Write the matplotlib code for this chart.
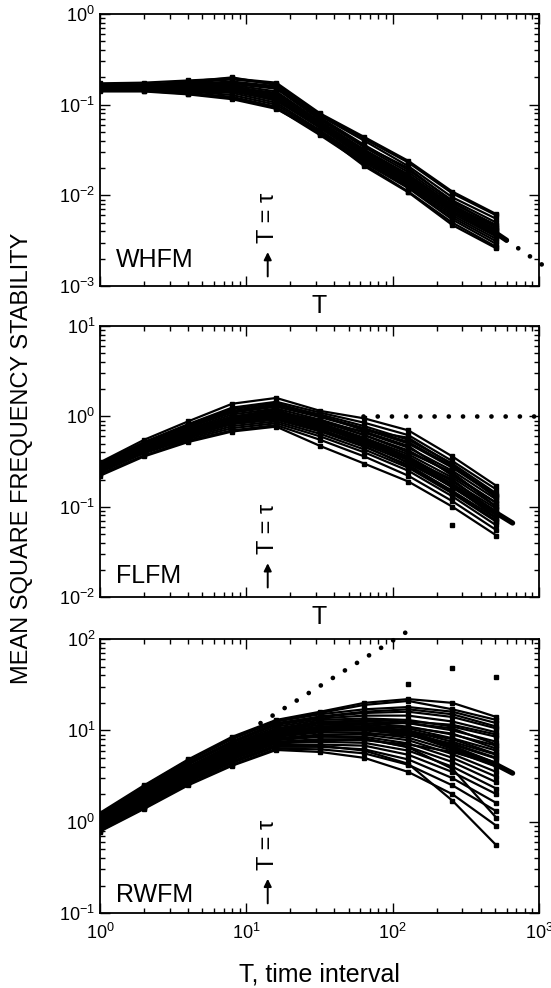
import numpy as np
import matplotlib.pyplot as plt
import matplotlib.transforms as mtransforms

plt.rcParams['font.family'] = ['Liberation Sans', 'DejaVu Sans']
plt.rcParams['mathtext.fontset'] = 'custom'
plt.rcParams['mathtext.rm'] = 'Liberation Sans'

# sampling intervals (powers of two)
T = [1, 2, 4, 8, 16, 32, 64, 128, 256, 512]
tau = 14

# --- WHFM ensemble ---
whfm_runs = [
    [0.165, 0.168, 0.175, 0.19, 0.17, 0.075, 0.040, 0.021, 0.0095, 0.0055],
    [0.160, 0.163, 0.170, 0.18, 0.16, 0.072, 0.036, 0.019, 0.0088, 0.0050],
    [0.158, 0.160, 0.165, 0.17, 0.15, 0.068, 0.034, 0.018, 0.0082, 0.0047],
    [0.162, 0.158, 0.160, 0.165, 0.14, 0.065, 0.032, 0.017, 0.0078, 0.0044],
    [0.155, 0.157, 0.158, 0.16, 0.13, 0.062, 0.030, 0.016, 0.0074, 0.0041],
    [0.160, 0.155, 0.152, 0.15, 0.125, 0.060, 0.029, 0.015, 0.0070, 0.0039],
    [0.157, 0.160, 0.150, 0.145, 0.118, 0.058, 0.028, 0.0145, 0.0067, 0.0037],
    [0.152, 0.150, 0.145, 0.14, 0.112, 0.055, 0.026, 0.0135, 0.0063, 0.0035],
    [0.160, 0.152, 0.142, 0.135, 0.105, 0.052, 0.025, 0.013, 0.0060, 0.0033],
    [0.155, 0.148, 0.140, 0.128, 0.10, 0.050, 0.024, 0.0125, 0.0057, 0.0031],
    [0.150, 0.145, 0.135, 0.122, 0.095, 0.048, 0.023, 0.012, 0.0054, 0.0029],
    [0.163, 0.165, 0.180, 0.20, 0.165, 0.078, 0.042, 0.023, 0.0105, 0.0060],
    [0.158, 0.162, 0.168, 0.175, 0.155, 0.070, 0.035, 0.020, 0.0085, 0.0045],
    [0.160, 0.156, 0.155, 0.155, 0.135, 0.064, 0.031, 0.0165, 0.0076, 0.0042],
    [0.145, 0.142, 0.132, 0.118, 0.092, 0.046, 0.022, 0.011, 0.0050, 0.0027],
    [0.162, 0.160, 0.160, 0.16, 0.128, 0.058, 0.027, 0.014, 0.0066, 0.0036],
    [0.172, 0.175, 0.185, 0.195, 0.175, 0.080, 0.044, 0.024, 0.011, 0.0062],
    [0.140, 0.140, 0.130, 0.115, 0.09, 0.049, 0.021, 0.0108, 0.0047, 0.0026],
]
whfm_fit_T = [1, 2, 4, 8, 16, 32, 64, 128, 256, 512, 600]
whfm_fit = [0.16, 0.16, 0.158, 0.15, 0.115, 0.060, 0.030, 0.015, 0.0075, 0.0038, 0.0032]
whfm_asym_T = [600, 1120]
whfm_asym = [0.0032, 0.0016]

# --- FLFM ensemble ---
flfm_runs = [
    [0.31, 0.55, 0.88, 1.38, 1.60, 1.15, 0.95, 0.70, 0.36, 0.17],
    [0.30, 0.52, 0.82, 1.25, 1.45, 1.10, 0.85, 0.62, 0.32, 0.155],
    [0.29, 0.50, 0.78, 1.15, 1.35, 1.05, 0.78, 0.55, 0.30, 0.14],
    [0.285, 0.48, 0.75, 1.10, 1.28, 0.98, 0.72, 0.50, 0.27, 0.13],
    [0.28, 0.47, 0.72, 1.05, 1.22, 0.92, 0.66, 0.45, 0.25, 0.12],
    [0.275, 0.46, 0.70, 1.00, 1.15, 0.88, 0.62, 0.42, 0.23, 0.11],
    [0.27, 0.45, 0.68, 0.97, 1.10, 0.84, 0.58, 0.38, 0.21, 0.10],
    [0.265, 0.44, 0.66, 0.93, 1.05, 0.80, 0.55, 0.36, 0.19, 0.095],
    [0.26, 0.43, 0.64, 0.90, 1.00, 0.76, 0.52, 0.33, 0.18, 0.088],
    [0.255, 0.42, 0.62, 0.86, 0.96, 0.72, 0.49, 0.31, 0.165, 0.08],
    [0.25, 0.41, 0.60, 0.82, 0.92, 0.68, 0.46, 0.29, 0.15, 0.074],
    [0.245, 0.40, 0.58, 0.78, 0.88, 0.64, 0.43, 0.27, 0.14, 0.068],
    [0.24, 0.39, 0.56, 0.74, 0.84, 0.60, 0.40, 0.25, 0.13, 0.062],
    [0.23, 0.37, 0.54, 0.70, 0.80, 0.55, 0.36, 0.22, 0.115, 0.055],
    [0.22, 0.36, 0.52, 0.68, 0.77, 0.47, 0.30, 0.19, 0.10, 0.048],
    [0.29, 0.51, 0.80, 1.20, 1.40, 1.02, 0.70, 0.58, 0.29, 0.125],
    [0.26, 0.42, 0.65, 0.95, 1.12, 0.90, 0.62, 0.40, 0.24, 0.10],
    [0.27, 0.46, 0.70, 0.98, 1.20, 0.78, 0.50, 0.34, 0.20, 0.085],
    [0.25, 0.44, 0.67, 0.92, 1.08, 0.86, 0.68, 0.47, 0.22, 0.11],
    [0.265, 0.43, 0.63, 0.88, 1.02, 0.74, 0.56, 0.30, 0.17, 0.075],
    [0.28, 0.49, 0.76, 1.12, 1.30, 1.00, 0.74, 0.52, 0.28, 0.135],
    [0.245, 0.41, 0.61, 0.84, 0.94, 0.70, 0.47, 0.28, 0.145, 0.07],
]
flfm_fit_T = [1, 2, 4, 8, 16, 32, 64, 128, 256, 512, 660]
flfm_fit = [0.27, 0.45, 0.67, 0.92, 1.02, 0.80, 0.55, 0.34, 0.17, 0.085, 0.066]
flfm_asym_T = [63, 1120]
flfm_asym = [1.0, 1.0]
flfm_out_T = [256]
flfm_out = [0.062]

# --- RWFM ensemble ---
rwfm_runs = [
    [1.25, 2.5, 4.8, 8.5, 13, 16, 20, 22, 20, 14],
    [1.2, 2.4, 4.6, 8.0, 12.5, 15, 17, 18, 16, 12],
    [1.15, 2.3, 4.4, 7.6, 12, 14, 15.5, 16, 14, 10.5],
    [1.12, 2.2, 4.2, 7.3, 11.5, 13.5, 14.5, 14.5, 12.5, 9.5],
    [1.1, 2.15, 4.0, 7.0, 11, 13, 13.5, 13, 11, 8.5],
    [1.08, 2.1, 3.9, 6.8, 10.5, 12.5, 12.5, 12, 10, 7.5],
    [1.05, 2.0, 3.8, 6.6, 10, 12, 12, 11, 9, 6.8],
    [1.03, 1.95, 3.7, 6.4, 9.8, 11.5, 11.5, 10.5, 8.2, 6.0],
    [1.0, 1.9, 3.6, 6.2, 9.5, 11, 11, 10, 7.5, 5.4],
    [0.98, 1.85, 3.5, 6.0, 9.2, 10.5, 10.5, 9.5, 7.0, 4.9],
    [0.96, 1.8, 3.4, 5.8, 8.8, 10, 10, 9, 6.5, 4.4],
    [0.94, 1.75, 3.3, 5.6, 8.5, 9.5, 9.5, 8.3, 6.0, 4.0],
    [0.92, 1.7, 3.2, 5.4, 8.2, 9.0, 9.0, 7.8, 5.5, 3.5],
    [0.9, 1.65, 3.1, 5.2, 7.8, 8.5, 8.5, 7.2, 5.0, 3.1],
    [0.88, 1.6, 3.0, 5.0, 7.5, 8.0, 8.0, 6.6, 4.5, 2.7],
    [0.86, 1.55, 2.9, 4.8, 7.2, 7.5, 7.3, 6.0, 4.0, 2.3],
    [0.84, 1.5, 2.8, 4.6, 6.9, 7.0, 6.8, 5.4, 3.5, 2.0],
    [0.82, 1.45, 2.7, 4.4, 6.6, 6.6, 6.2, 4.8, 3.0, 1.6],
    [0.8, 1.4, 2.6, 4.2, 6.3, 6.2, 5.6, 4.2, 2.5, 1.3],
    [0.78, 1.38, 2.5, 4.1, 6.1, 5.8, 5.0, 3.5, 2.0, 0.9],
    [1.18, 2.45, 4.7, 8.2, 12.8, 15.5, 19, 21, 17, 13],
    [1.06, 2.05, 3.85, 6.7, 10.2, 12.2, 13, 12.5, 11.5, 9],
    [0.95, 1.78, 3.35, 5.7, 8.6, 9.8, 10.2, 9.8, 8, 5.5],
    [0.87, 1.58, 2.95, 4.9, 7.4, 7.8, 7.8, 7.0, 5.8, 4.2],
    [1.02, 1.92, 3.65, 6.3, 9.6, 10.8, 11.8, 12, 10.5, 7],
    [0.9, 1.66, 3.1, 5.3, 7.9, 8.7, 8.2, 6.5, 3.8, 1.1],
    [0.85, 1.5, 2.8, 4.5, 6.8, 6.8, 6.0, 4.3, 1.7, 0.55],
    [1.13, 2.25, 4.3, 7.4, 11.8, 14.2, 16, 17, 15, 11],
    [0.97, 1.82, 3.45, 5.9, 9.0, 10.2, 10.8, 10.8, 9.2, 6.3],
    [0.91, 1.68, 3.15, 5.3, 8.0, 8.8, 9.2, 8.8, 7.2, 5.0],
]
rwfm_fit_T = [1, 2, 4, 8, 16, 32, 64, 128, 256, 512, 660]
rwfm_fit = [1.0, 1.9, 3.5, 6.2, 9.0, 10.5, 10.5, 9.5, 6.5, 4.2, 3.4]
rwfm_asym_T = [12.5, 130]
rwfm_asym = [12, 125]
rwfm_out_T = [128, 256, 512]
rwfm_out = [32, 48, 38]

panels = [
    ('WHFM', whfm_runs, whfm_fit_T, whfm_fit, whfm_asym_T, whfm_asym, [], [], (1e-3, 1e0), 0.07),
    ('FLFM', flfm_runs, flfm_fit_T, flfm_fit, flfm_asym_T, flfm_asym, flfm_out_T, flfm_out, (1e-2, 1e1), 0.052),
    ('RWFM', rwfm_runs, rwfm_fit_T, rwfm_fit, rwfm_asym_T, rwfm_asym, rwfm_out_T, rwfm_out, (1e-1, 1e2), 0.04),
]

fig = plt.figure(figsize=(5.51, 9.88), dpi=100)
boxes = [[0.1815, 0.7105, 0.7967, 0.2753],
         [0.1815, 0.3957, 0.7967, 0.2743],
         [0.1815, 0.0759, 0.7967, 0.2773]]

for i, (name, runs, fT, fy, aT, ay, oT, oy, ylim, name_y) in enumerate(panels):
    ax = fig.add_axes(boxes[i])
    for run in runs:
        ax.plot(T, run, color='black', lw=1.6, marker='s', ms=2.4, zorder=2)
    ax.plot(fT, fy, color='black', lw=3.8, solid_capstyle='round', zorder=3)
    ax.plot(aT, ay, color='black', lw=3.4, linestyle=(0, (0.01, 3.0)),
            dash_capstyle='round', clip_on=False, zorder=3)
    if oT:
        ax.plot(oT, oy, 's', color='black', ms=2.8, zorder=2)

    ax.set_xscale('log')
    ax.set_yscale('log')
    ax.set_xlim(1, 1000)
    ax.set_ylim(*ylim)
    ax.tick_params(which='both', direction='in', top=True, right=True,
                   labelsize=13, width=1)
    ax.tick_params(which='major', length=7)
    ax.tick_params(which='minor', length=3.5)
    ax.tick_params(axis='x', pad=7)
    for s in ax.spines.values():
        s.set_linewidth(1.3)

    ax.text(0.036, name_y, name, transform=ax.transAxes, fontsize=18,
            va='baseline', ha='left')

    trans = mtransforms.blended_transform_factory(ax.transData, ax.transAxes)
    ax.text(tau, 0.25, 'T = τ', transform=trans, rotation=90, fontsize=17,
            ha='center', va='center')
    ax.annotate('', xy=(tau, 0.135), xytext=(tau, 0.025), xycoords=trans,
                textcoords=trans,
                arrowprops=dict(arrowstyle='-|>', color='black', lw=1.4,
                                mutation_scale=11))

    if i < 2:
        ax.tick_params(axis='x', labelbottom=False)
        ax.text(0.5, -0.075, 'T', transform=ax.transAxes, fontsize=18,
                ha='center', va='center')
    else:
        ax.set_xlabel('T, time interval', fontsize=18, labelpad=14)

fig.text(0.040, 0.5364, 'MEAN SQUARE FREQUENCY STABILITY', rotation=90,
         fontsize=17, ha='center', va='center',
         family=['Liberation Sans Narrow', 'Liberation Sans'])

fig.savefig('out.png', dpi=100)
